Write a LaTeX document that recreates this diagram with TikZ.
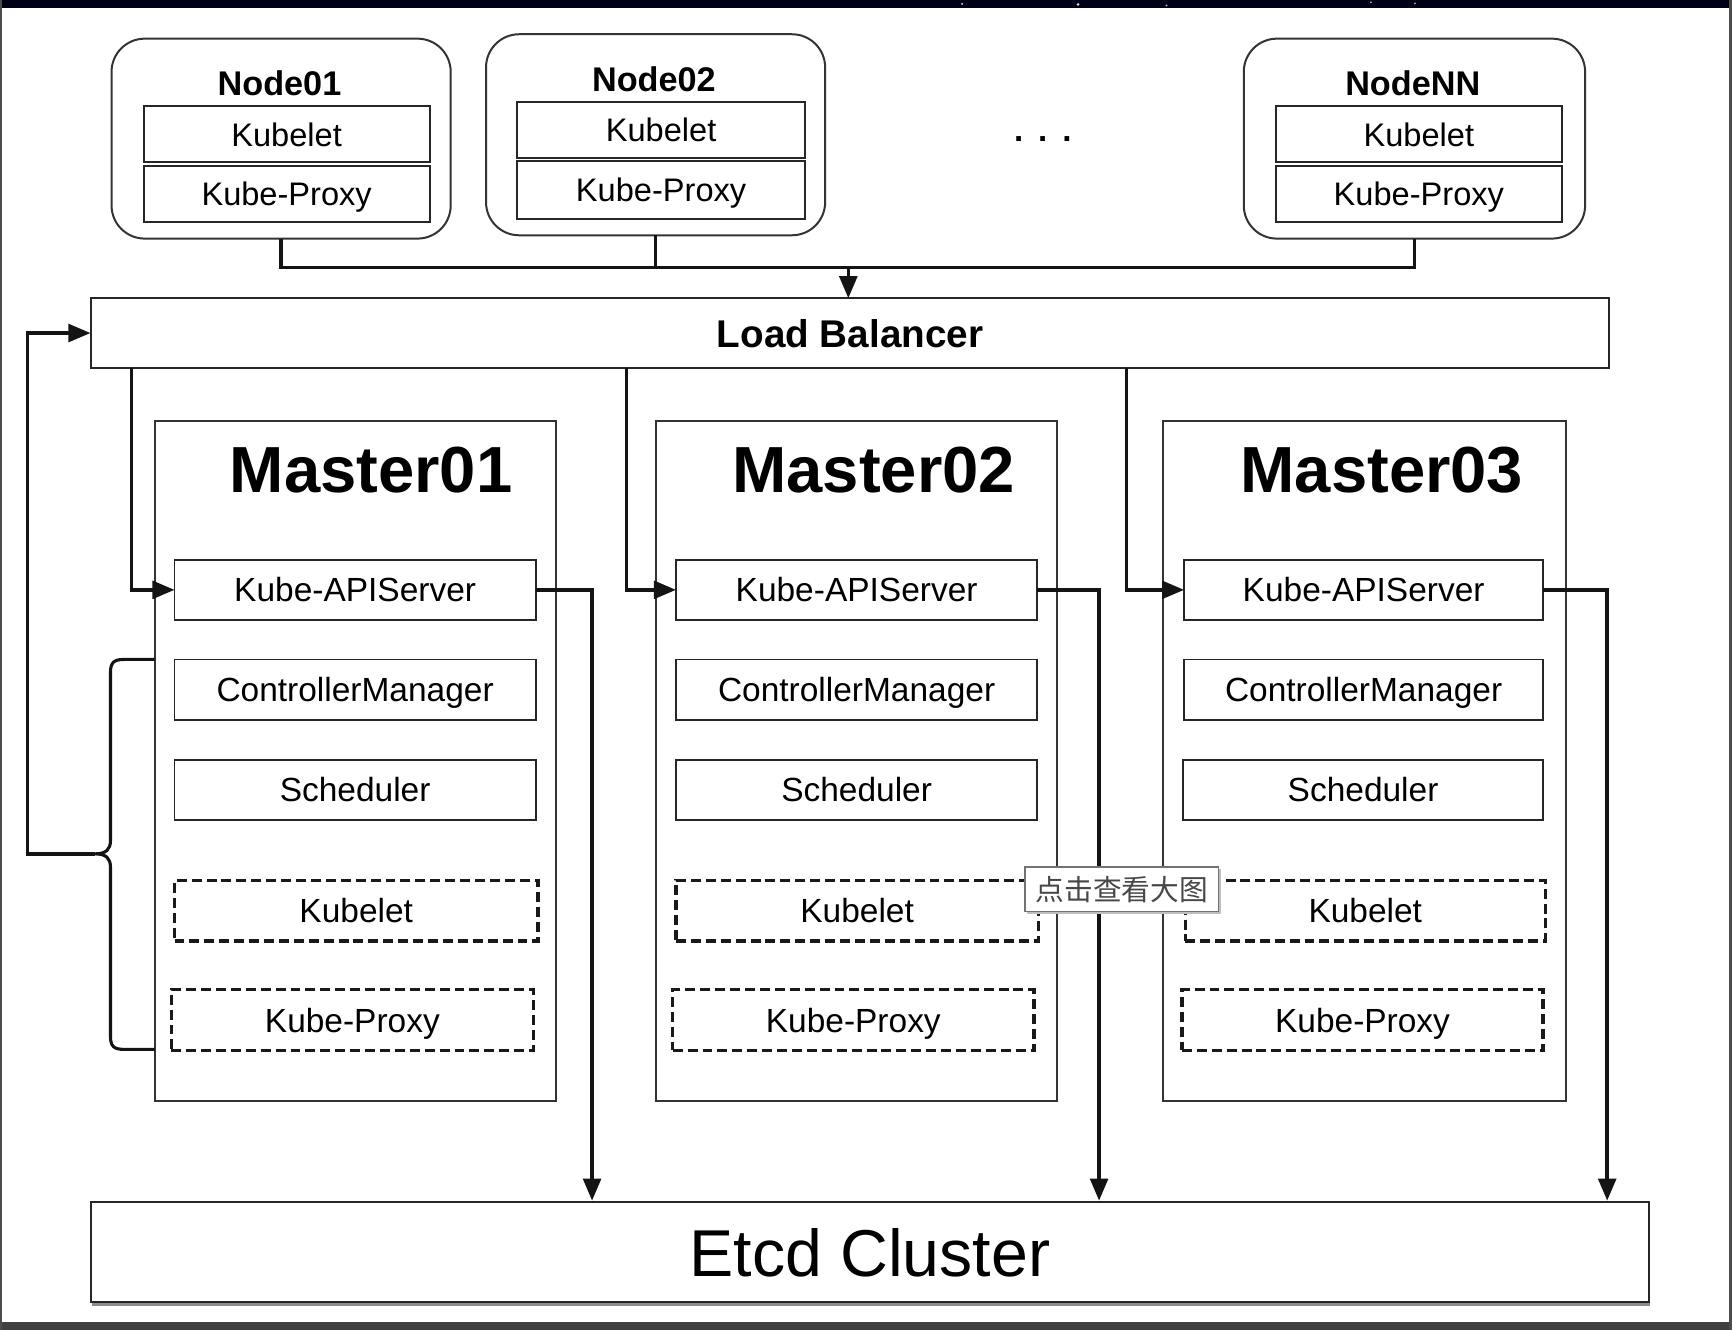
\documentclass[tikz,border=0pt]{standalone}
\usepackage{fontspec}
\setmainfont{Liberation Sans}
\newfontfamily\cjkfont{Noto Sans CJK SC}
\usetikzlibrary{arrows.meta,calc}
\begin{document}
\begin{tikzpicture}[x=1pt,y=-1pt,
  capcenter/.style={text depth=0pt},
  box/.style={draw=black!85, line width=1.7pt, inner sep=0pt, outer sep=0pt, fill=white, capcenter},
  dbox/.style={draw=black!90, line width=3pt, dash pattern=on 9pt off 4.5pt, inner sep=0pt, outer sep=0pt, fill=white, capcenter},
  nodebox/.style={draw=black!80, line width=1.8pt, rounded corners=30pt, inner sep=0pt, outer sep=0pt},
  mbox/.style={draw=black!80, line width=1.6pt, inner sep=0pt, outer sep=0pt},
  conn/.style={line width=3.2pt, draw=black!92},
  arr/.style={conn, -{Triangle[length=20pt,width=16pt]}},
  ntitle/.style={font=\fontsize{31}{36}\selectfont\bfseries, capcenter},
  mtitle/.style={font=\fontsize{59}{66}\selectfont\bfseries, capcenter},
  ntext/.style={font=\fontsize{29.5}{34}\selectfont},
  mtext/.style={font=\fontsize{30.3}{34}\selectfont},
]
\useasboundingbox (0,0) rectangle (1568,1204);
% frame
\fill[white] (0,0) rectangle (1568,1204);
\fill[black!85!blue!60!black] (0,0) rectangle (1568,7);
\fill[white!80!black] (871,3.5) circle (1pt);
\fill[white!90!black] (976,4) circle (1.3pt);
\fill[white!70!black] (1056,5) circle (1pt);
\fill[white!70!black] (1241,2) circle (0.9pt);
\fill[white!70!black] (1281,3) circle (0.9pt);
\fill[black!75] (0,1197) rectangle (1568,1204);
\fill[black!70] (0,0) rectangle (1.8,1204);
\fill[black!70] (1565.5,0) rectangle (1568,1204);

% worker nodes
\node[nodebox, minimum width=307pt, minimum height=181pt] (n1) at (254.5,125.5) {};
\node[ntitle] (n1t) at (253,75) {Node01};
\node[box, ntext, minimum width=259pt, minimum height=51pt] (n1k) at (259.5,121.5) {Kubelet};
\node[box, ntext, minimum width=259pt, minimum height=51pt] (n1p) at (259.5,175.5) {Kube-Proxy};

\node[nodebox, minimum width=307pt, minimum height=182pt] (n2) at (593.5,122) {};
\node[ntitle] (n2t) at (592,72) {Node02};
\node[box, ntext, minimum width=261pt, minimum height=51pt] (n2k) at (598.5,117.5) {Kubelet};
\node[box, ntext, minimum width=261pt, minimum height=52pt] (n2p) at (598.5,172) {Kube-Proxy};

\node[nodebox, minimum width=309pt, minimum height=181pt] (nn) at (1280.5,125.5) {};
\node[ntitle] (nnt) at (1279,75) {NodeNN};
\node[box, ntext, minimum width=259pt, minimum height=51pt] (nnk) at (1284.5,121.5) {Kubelet};
\node[box, ntext, minimum width=259pt, minimum height=51pt] (nnp) at (1284.5,175.5) {Kube-Proxy};

\node[font=\fontsize{30}{34}\selectfont\bfseries, anchor=base] (dots) at (944,128) {.\hspace{13.5pt}.\hspace{13.5pt}.};

% load balancer
\node[box, minimum width=1375pt, minimum height=63pt, font=\fontsize{35}{40}\selectfont\bfseries] (lb) at (769.5,301.5) {Load Balancer};

% masters
\node[mbox, minimum width=363pt, minimum height=616pt] (m1) at (321.5,689) {};
\node[mbox, minimum width=363pt, minimum height=616pt] (m2) at (775.5,689) {};
\node[mbox, minimum width=365pt, minimum height=616pt] (m3) at (1235.5,689) {};
\node[mtitle] (m1t) at (336,425) {Master01};
\node[mtitle] (m2t) at (791,425) {Master02};
\node[mtitle] (m3t) at (1251,425) {Master03};

\node[box, mtext, minimum width=327pt, minimum height=54pt] (m1api) at (321.5,534) {Kube-APIServer};
\node[box, mtext, minimum width=327pt, minimum height=55pt] (m1cm) at (321.5,624.5) {ControllerManager};
\node[box, mtext, minimum width=327pt, minimum height=54pt] (m1sch) at (321.5,715) {Scheduler};
\node[dbox, mtext, minimum width=329pt, minimum height=55pt] (m1kub) at (322.5,824.5) {Kubelet};
\node[dbox, mtext, minimum width=328pt, minimum height=55pt] (m1prx) at (319,923.5) {Kube-Proxy};

\node[box, mtext, minimum width=327pt, minimum height=54pt] (m2api) at (775.5,534) {Kube-APIServer};
\node[box, mtext, minimum width=327pt, minimum height=55pt] (m2cm) at (775.5,624.5) {ControllerManager};
\node[box, mtext, minimum width=327pt, minimum height=54pt] (m2sch) at (775.5,715) {Scheduler};
\node[dbox, mtext, minimum width=328pt, minimum height=55pt] (m2kub) at (776,824.5) {Kubelet};
\node[dbox, mtext, minimum width=327pt, minimum height=55pt] (m2prx) at (772.5,923.5) {Kube-Proxy};

\node[box, mtext, minimum width=325pt, minimum height=54pt] (m3api) at (1234.5,534) {Kube-APIServer};
\node[box, mtext, minimum width=325pt, minimum height=55pt] (m3cm) at (1234.5,624.5) {ControllerManager};
\node[box, mtext, minimum width=326pt, minimum height=54pt] (m3sch) at (1234,715) {Scheduler};
\node[dbox, mtext, minimum width=326pt, minimum height=55pt] (m3kub) at (1236,824.5) {Kubelet};
\node[dbox, mtext, minimum width=327pt, minimum height=55pt] (m3prx) at (1233.5,923.5) {Kube-Proxy};

% etcd
\draw[black!45, line width=2pt] (83,1181) -- (1494,1181);
\node[box, minimum width=1411pt, minimum height=91pt, font=\fontsize{60}{68}\selectfont] (etcd) at (787.5,1133.5) {Etcd Cluster};

% connectors: nodes to load balancer
\coordinate (j) at (768,242);
\draw[conn] (n1.south) -- (n1.south |- j) -- (nn.south |- j) -- (nn.south);
\draw[conn] (n2.south) -- (n2.south |- j);
\draw[arr] (j) -- (j |- lb.north);

% load balancer to API servers
\coordinate (l1) at (119,333);
\coordinate (l2) at (567,333);
\coordinate (l3) at (1020,333);
\draw[arr] (l1) |- (m1api.west);
\draw[arr] (l2) |- (m2api.west);
\draw[arr] (l3) |- (m3api.west);

% API servers to etcd
\coordinate (e1) at (536,1087);
\coordinate (e2) at (995,1087);
\coordinate (e3) at (1455,1087);
\draw[arr] (m1api.east) -| (e1);
\draw[arr] (m2api.east) -| (e2);
\draw[arr] (m3api.east) -| (e3);

% brace and feedback
\coordinate (tip) at (86,773);
\coordinate (fb) at (25,773);
\draw[conn, line width=2.8pt] (140,597) -- (112,597) .. controls (103,597) and (100,600) .. (100,609) -- (100,761) .. controls (100,769) and (96,773) .. (tip) .. controls (96,773) and (100,777) .. (100,785) -- (100,938) .. controls (100,947) and (103,950) .. (112,950) -- (140,950);
\draw[arr] (tip) -- (fb) |- (lb.west);

% tooltip overlay
\fill[black!25] (930,787) rectangle (1105,827);
\node[draw=black!55, fill=white, line width=1.2pt, inner sep=0pt, outer sep=0pt, minimum width=175pt, minimum height=40pt, text=black!72, font=\cjkfont\fontsize{26}{30}\selectfont] (tt) at (1015.5,805) {点击查看大图};
\end{tikzpicture}
\end{document}
